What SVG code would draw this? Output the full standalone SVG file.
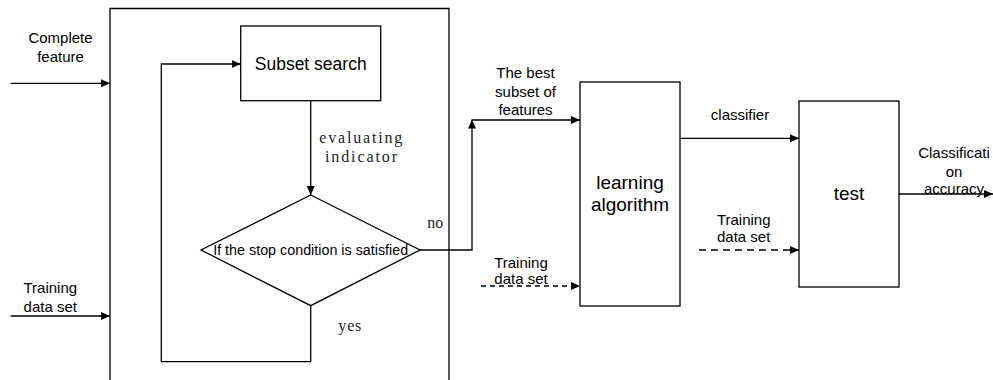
<svg xmlns="http://www.w3.org/2000/svg" width="993" height="380" viewBox="0 0 993 380">
<style>
.box{fill:#fff;stroke:#000;stroke-width:1.3}
.ln{fill:none;stroke:#000;stroke-width:1.3}
.dash1{stroke-dasharray:5,4}
.dash2{stroke-dasharray:7,5}
.sans{font-family:"Liberation Sans",Arial,sans-serif;fill:#000}
.serif{font-family:"Liberation Serif","Times New Roman",serif;fill:#222}
.lbl{font-size:15px}
.big{font-size:19px}
</style>
<defs>
<marker id="arr" markerUnits="userSpaceOnUse" markerWidth="10" markerHeight="9" refX="9" refY="4" orient="auto">
<path d="M0,0 L9,4 L0,8 z" fill="#000"/>
</marker>
</defs>
<rect x="0" y="0" width="993" height="380" fill="#fff"/>

<g id="frame">
<path class="ln" d="M110,385 L110,8.5 L449,8.5 L449,385"/>
</g>

<g id="subset-search">
<rect class="box" x="240.7" y="26" width="140" height="74.7"/>
<text class="sans" x="310.7" y="70" font-size="17.5" text-anchor="middle">Subset search</text>
</g>

<g id="stop-condition">
<path class="box" d="M310.7,195 L420,250 L310.7,305.7 L201,250 z"/>
<text class="sans" x="310.7" y="255" font-size="14" text-anchor="middle" textLength="195" lengthAdjust="spacingAndGlyphs">If the stop condition is satisfied</text>
</g>

<g id="learning-algorithm">
<rect class="box" x="580" y="82" width="100" height="224"/>
<text class="sans big" x="630" y="189" text-anchor="middle">learning</text>
<text class="sans big" x="630" y="211" text-anchor="middle">algorithm</text>
</g>

<g id="test">
<rect class="box" x="799" y="101" width="100" height="186"/>
<text class="sans big" x="849" y="200" text-anchor="middle">test</text>
</g>

<g id="connectors">
<line class="ln" x1="10.7" y1="83.3" x2="110" y2="83.3" marker-end="url(#arr)"/>
<line class="ln" x1="10.7" y1="316" x2="110" y2="316" marker-end="url(#arr)"/>
<line class="ln" x1="310.7" y1="100.7" x2="310.7" y2="195" marker-end="url(#arr)"/>
<polyline class="ln" points="310.7,305.7 310.7,361.7 161.3,361.7 161.3,64 240.7,64" marker-end="url(#arr)"/>
<polyline class="ln" points="420,250 472,250 472,119.5" marker-end="url(#arr)"/>
<line class="ln" x1="472" y1="120" x2="580" y2="120" marker-end="url(#arr)"/>
<line class="ln dash1" x1="481" y1="286" x2="580" y2="286" marker-end="url(#arr)"/>
<line class="ln" x1="680" y1="138.3" x2="799" y2="138.3" marker-end="url(#arr)"/>
<line class="ln dash2" x1="699" y1="250" x2="799" y2="250" marker-end="url(#arr)"/>
<line class="ln" x1="899" y1="194" x2="993" y2="194" marker-end="url(#arr)"/>
</g>

<g id="labels">
<text class="sans lbl" x="60.5" y="43.3" text-anchor="middle">Complete</text>
<text class="sans lbl" x="60.5" y="61.7" text-anchor="middle">feature</text>
<text class="sans lbl" x="50.3" y="293.3" text-anchor="middle">Training</text>
<text class="sans lbl" x="50.3" y="311.7" text-anchor="middle">data set</text>
<text class="serif" x="319.3" y="142.7" font-size="16" textLength="83" lengthAdjust="spacing">evaluating</text>
<text class="serif" x="325" y="161.7" font-size="16" textLength="72" lengthAdjust="spacing">indicator</text>
<text class="serif" x="427.3" y="227.7" font-size="16" textLength="16" lengthAdjust="spacing">no</text>
<text class="serif" x="338.3" y="331" font-size="16" textLength="23" lengthAdjust="spacing">yes</text>
<text class="sans lbl" x="525.5" y="78" text-anchor="middle">The best</text>
<text class="sans lbl" x="525.5" y="97.3" text-anchor="middle">subset of</text>
<text class="sans lbl" x="525.5" y="115" text-anchor="middle">features</text>
<text class="sans lbl" x="521" y="268" text-anchor="middle">Training</text>
<text class="sans lbl" x="521" y="284" text-anchor="middle">data set</text>
<text class="sans lbl" x="740" y="120" text-anchor="middle">classifier</text>
<text class="sans lbl" x="743.7" y="225" text-anchor="middle">Training</text>
<text class="sans lbl" x="743.7" y="241.7" text-anchor="middle">data set</text>
<text class="sans lbl" x="954" y="158" text-anchor="middle">Classificati</text>
<text class="sans lbl" x="954" y="177" text-anchor="middle">on</text>
<text class="sans lbl" x="954" y="194" text-anchor="middle">accuracy</text>
</g>
</svg>
